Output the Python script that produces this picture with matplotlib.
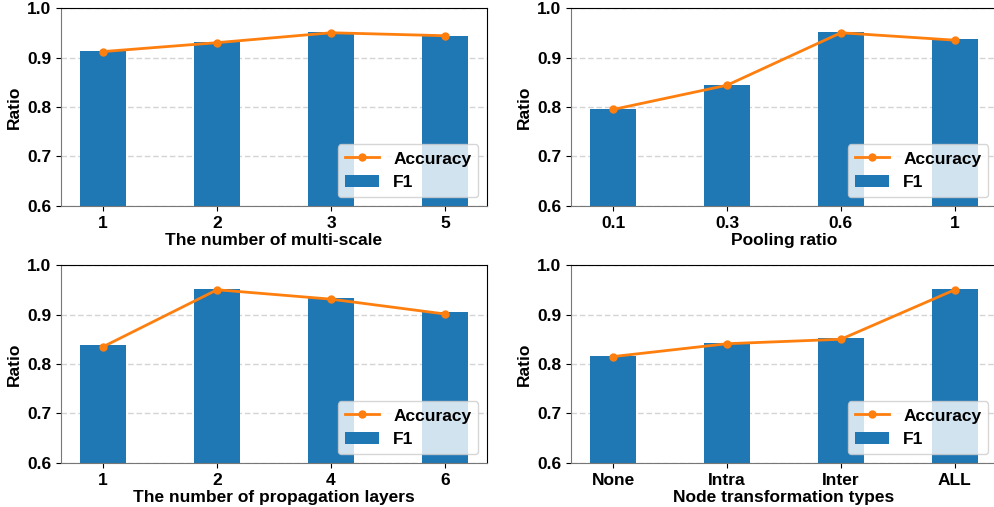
import matplotlib.pyplot as plt
import numpy as np

plt.rcParams['font.family'] = ['Liberation Sans', 'DejaVu Sans']
plt.rcParams['font.weight'] = 'bold'
plt.rcParams['font.size'] = 12.5

# multi-scale
scale_labels = ["1", "2", "3", "5"]
scale_f1 = [0.913, 0.931, 0.951, 0.943]
scale_acc = [0.912, 0.930, 0.950, 0.944]

# pooling ratio
pool_labels = ["0.1", "0.3", "0.6", "1"]
pool_f1 = [0.795, 0.844, 0.951, 0.937]
pool_acc = [0.795, 0.844, 0.950, 0.935]

# propagation layers
layer_labels = ["1", "2", "4", "6"]
layer_f1 = [0.838, 0.951, 0.933, 0.905]
layer_acc = [0.835, 0.950, 0.931, 0.901]

# node transformation
node_labels = ["None", "Intra", "Inter", "ALL"]
node_f1 = [0.816, 0.842, 0.852, 0.951]
node_acc = [0.815, 0.841, 0.850, 0.950]

fig = plt.figure(figsize=(9.94, 5.07), dpi=100)

panels = [
    ([0.0614, 0.5937, 0.4286, 0.3905], scale_labels, scale_f1, scale_acc, "The number of multi-scale"),
    ([0.5744, 0.5937, 0.4286, 0.3905], pool_labels, pool_f1, pool_acc, "Pooling ratio"),
    ([0.0614, 0.0868, 0.4286, 0.3905], layer_labels, layer_f1, layer_acc, "The number of propagation layers"),
    ([0.5744, 0.0868, 0.4286, 0.3905], node_labels, node_f1, node_acc, "Node transformation types"),
]

for rect, labels, f1, acc, xlabel in panels:
    ax = fig.add_axes(rect)
    x = np.arange(len(labels))
    ax.set_axisbelow(True)
    ax.grid(axis='y', linestyle=(0, (4, 2)), color='#d4d4d4', linewidth=1)
    ax.bar(x, f1, width=0.4, color='#1f77b4', label='F1')
    ax.plot(x, acc, color='#ff7f0e', marker='o', markersize=5, linewidth=2, label='Accuracy')
    ax.set_ylim(0.6, 1.0)
    ax.set_yticks([0.6, 0.7, 0.8, 0.9, 1.0])
    ax.set_xticks(x)
    ax.set_xticklabels(labels)
    ax.set_xlabel(xlabel, fontweight='bold', labelpad=2)
    ax.set_ylabel("Ratio", fontweight='bold')
    ax.spines['left'].set_color('#777777')
    ax.spines['bottom'].set_color('#777777')
    ax.legend(loc='lower right', prop={'weight': 'bold', 'size': 12.5})

fig.savefig("out.png", dpi=100)
